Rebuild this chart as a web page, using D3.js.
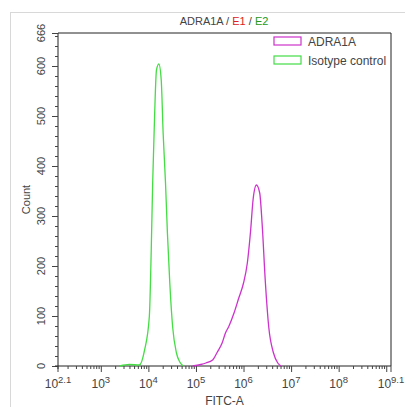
<!DOCTYPE html>
<html>
<head>
<meta charset="utf-8">
<script src="https://cdn.jsdelivr.net/npm/d3@7"></script>
<style>
  body { margin: 0; background: #fff; }
  text { font-family: "Liberation Sans", Arial, sans-serif; }
</style>
</head>
<body>
<div id="chart"></div>
<script>
// datos (exponente log10 de FITC-A, cuentas)
const isoLog   = [3.40, 3.60, 3.81, 3.92, 4.02, 4.06, 4.09, 4.13, 4.17, 4.22, 4.27, 4.31, 4.36, 4.40, 4.45, 4.51, 4.59, 4.66, 4.74]
const isoCount = [0, 3, 2, 32, 99, 232, 366, 499, 592, 604, 572, 466, 366, 266, 166, 78, 26, 8, 0]
const adrLog   = [4.93, 5.10, 5.21, 5.35, 5.45, 5.55, 5.62, 5.69, 5.80, 5.90, 6.00, 6.08, 6.15, 6.20, 6.27, 6.34, 6.39, 6.46, 6.53, 6.63, 6.72, 6.79]
const adrCount = [0, 3, 6, 12, 28, 46, 66, 79, 106, 136, 166, 206, 272, 332, 362, 346, 286, 166, 78, 26, 6, 0]
const yTicks = [0, 100, 200, 300, 400, 500, 600, 666]
const xExps = ["2.1", "3", "4", "5", "6", "7", "8", "9.1"]
const series = ["ADRA1A", "Isotype control"]
const colores = ["#cc33cc", "#44dd44"]

const ancho = 405, alto = 407
const margen = { superior: 33, inferior: 41, izquierdo: 58, derecho: 12 }

const svg = d3.select("#chart").append("svg").attr("width", ancho).attr("height", alto)

// marco gris
svg.append("rect").attr("x", 10.5).attr("y", 12.5).attr("width", 420).attr("height", 420)
  .attr("fill", "none").attr("stroke", "#d8d8d8")

const x = d3.scaleLog().domain([Math.pow(10, 2.1), Math.pow(10, 9.1)])
  .range([margen.izquierdo, ancho - margen.derecho - 2])
const y = d3.scaleLinear().domain([0, 666]).range([alto - margen.inferior, margen.superior])

// caja del grafico (arriba y derecha)
const x0 = x.range()[0], x1 = x.range()[1], y0 = y.range()[0], y1 = y.range()[1]
svg.append("path").attr("d", `M${x0},${y1}H${x1}V${y0}`).attr("fill", "none").attr("stroke", "#222")

// eje Y
const ejeY = svg.append("g").attr("transform", `translate(${x0},0)`)
ejeY.call(d3.axisLeft(y).tickValues(d3.range(0, 661, 20).concat([666])).tickSize(3).tickFormat(""))
ejeY.selectAll(".tick line").filter(d => yTicks.includes(d)).attr("x2", -6)
ejeY.select(".domain").attr("d", `M0,${y0 + 3}V${y1}`).attr("stroke", "#222")
ejeY.selectAll(".tick line").attr("stroke", "#444")
ejeY.selectAll(".ylab").data(yTicks).enter().append("text")
  .attr("transform", d => `translate(-13,${y(d)}) rotate(-90)`)
  .attr("text-anchor", "middle").attr("font-size", 11).attr("fill", "#444")
  .text(d => d)

// eje X
const minores = []
for (let e = 2; e <= 9; e++) for (let m = 1; m <= 9; m++) {
  const v = m * Math.pow(10, e)
  if (v >= x.domain()[0] && v <= x.domain()[1]) minores.push(v)
}
const ejeX = svg.append("g").attr("transform", `translate(0,${y0})`)
ejeX.call(d3.axisBottom(x).tickValues(minores).tickSize(3).tickFormat(""))
ejeX.selectAll(".tick line").filter(d => Math.abs(Math.log10(d) % 1) < 1e-6).attr("y2", 6)
ejeX.select(".domain").attr("d", `M${x0 - 3},0H${x1}`).attr("stroke", "#222")
ejeX.selectAll(".tick line").attr("stroke", "#444")
// marcas de los extremos
ejeX.append("line").attr("x1", x0).attr("x2", x0).attr("y1", 0).attr("y2", 6).attr("stroke", "#444")
ejeX.append("line").attr("x1", x1).attr("x2", x1).attr("y1", 0).attr("y2", 6).attr("stroke", "#444")

xExps.forEach(e => {
  const t = ejeX.append("text").attr("x", x(Math.pow(10, +e))).attr("y", 22)
    .attr("text-anchor", "middle").attr("font-size", 12).attr("fill", "#444")
  t.append("tspan").text("10")
  t.append("tspan").attr("dy", -5).attr("font-size", 9.5).text(e)
})

// titulos de ejes
svg.append("text").attr("x", (x0 + x1) / 2).attr("y", 405).attr("text-anchor", "middle")
  .attr("font-size", 12).attr("fill", "#444").text("FITC-A")
svg.append("text").attr("transform", `translate(30,${(y0 + y1) / 2}) rotate(-90)`)
  .attr("text-anchor", "middle").attr("font-size", 11).attr("fill", "#444").text("Count")

// titulo
const titulo = svg.append("text").attr("x", 224).attr("y", 25).attr("text-anchor", "middle")
  .attr("font-size", 11).attr("fill", "#444")
titulo.append("tspan").text("ADRA1A / ")
titulo.append("tspan").attr("fill", "#dd2222").text("E1")
titulo.append("tspan").text(" / ")
titulo.append("tspan").attr("fill", "#229922").text("E2")

// curvas
const linea = d3.line().x(d => x(Math.pow(10, d[0]))).y(d => y(d[1])).curve(d3.curveMonotoneX)
const datos = [d3.zip(adrLog, adrCount), d3.zip(isoLog, isoCount)]
svg.selectAll(".serie").data(datos).enter().append("path")
  .attr("d", linea).attr("fill", "none")
  .attr("stroke", (d, i) => colores[i]).attr("stroke-width", 1.3)

// leyenda
const leyenda = svg.selectAll(".ley").data(series).enter().append("g")
  .attr("transform", (d, i) => `translate(274,${42 + i * 19})`)
leyenda.append("rect").attr("x", 0).attr("y", -5).attr("width", 27).attr("height", 8)
  .attr("fill", "none").attr("stroke", (d, i) => colores[i]).attr("stroke-width", 1.2)
leyenda.append("text").attr("x", 34).attr("y", 4).attr("font-size", 12).attr("fill", "#444").text(d => d)
</script>
</body>
</html>
